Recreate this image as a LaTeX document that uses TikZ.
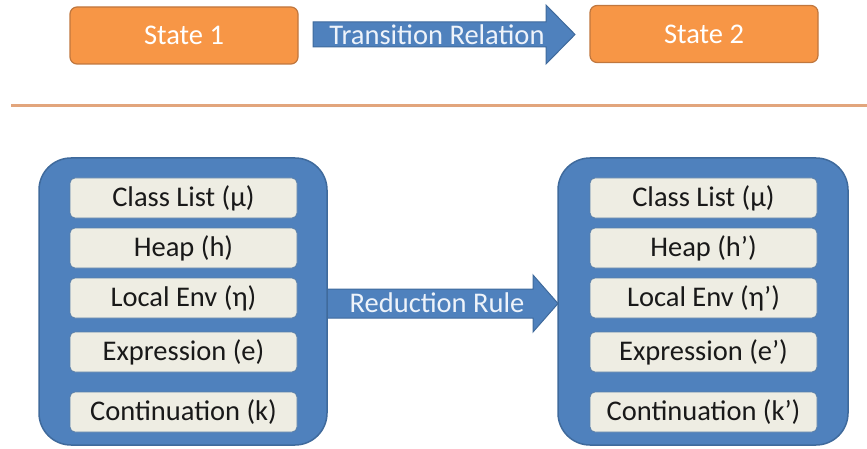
\documentclass[tikz,border=0pt]{standalone}
\usepackage{fontspec}
\setmainfont{Carlito}
\definecolor{orfill}{HTML}{F79646}
\definecolor{ordraw}{HTML}{C0773E}
\definecolor{blfill}{HTML}{4F81BD}
\definecolor{bldraw}{HTML}{3F6A9C}
\definecolor{infill}{HTML}{EEEDE3}
\definecolor{indraw}{HTML}{5A7FA8}
\definecolor{rulecol}{HTML}{E2A57C}
\definecolor{lighttxt}{HTML}{EEF3FA}
\begin{document}
\begin{tikzpicture}[x=1pt,y=-1pt,
  txt/.style={font=\fontsize{28.5}{33}\selectfont, inner sep=0pt},
  statebox/.style={txt, draw=ordraw, fill=orfill, line width=1.2pt, rounded corners=7pt,
    text=white, minimum width=228pt, minimum height=57pt},
  bigbox/.style={draw=bldraw, fill=blfill, line width=1.5pt, rounded corners=32pt,
    minimum width=288pt, minimum height=287pt, inner sep=0pt},
  itembox/.style={txt, draw=indraw, fill=infill, line width=0.8pt, rounded corners=5pt,
    text=black!90, minimum width=227pt, minimum height=40pt},
  blockarrow/.style={draw=bldraw, fill=blfill, line width=1pt, line join=miter},
  arrowtxt/.style={txt, text=lighttxt}
]
\useasboundingbox (0,0) rectangle (867,449);

% top row
\node[statebox] (s1) at (184,35.5) {State 1};
\node[statebox] (s2) at (704,34) {State 2};
\draw[blockarrow] (313,22) -- (546,22) -- (546,5) -- (575,34.5) -- (546,64) -- (546,47) -- (313,47) -- cycle;
\node[arrowtxt] (tr) at (437,34.5) {Transition Relation};

% separator
\coordinate (la) at (11,106);
\coordinate (lb) at (867,106);
\draw[rulecol, line width=3pt] (la) -- (lb);

% reduction arrow (behind boxes)
\draw[blockarrow] (320,289) -- (533,289) -- (533,275) -- (558,303.5) -- (533,332) -- (533,318) -- (320,318) -- cycle;

% left state
\node[bigbox] (L) at (183,301.5) {};
\node[itembox] (l1) at (183.5,198) {Class List (μ)};
\node[itembox] (l2) at (183.5,248) {Heap (h)};
\node[itembox] (l3) at (183.5,298) {Local Env (η)};
\node[itembox] (l4) at (183.5,352) {Expression (e)};
\node[itembox] (l5) at (183.5,412) {Continuation (k)};

% right state
\node[bigbox, minimum width=290pt] (R) at (703,301.5) {};
\node[itembox] (r1) at (703.5,198) {Class List (μ)};
\node[itembox] (r2) at (703.5,248) {Heap (h’)};
\node[itembox] (r3) at (703.5,298) {Local Env (η’)};
\node[itembox] (r4) at (703.5,352) {Expression (e’)};
\node[itembox] (r5) at (703.5,412) {Continuation (k’)};

\node[arrowtxt] (rr) at (437,303) {Reduction Rule};
\end{tikzpicture}
\end{document}
